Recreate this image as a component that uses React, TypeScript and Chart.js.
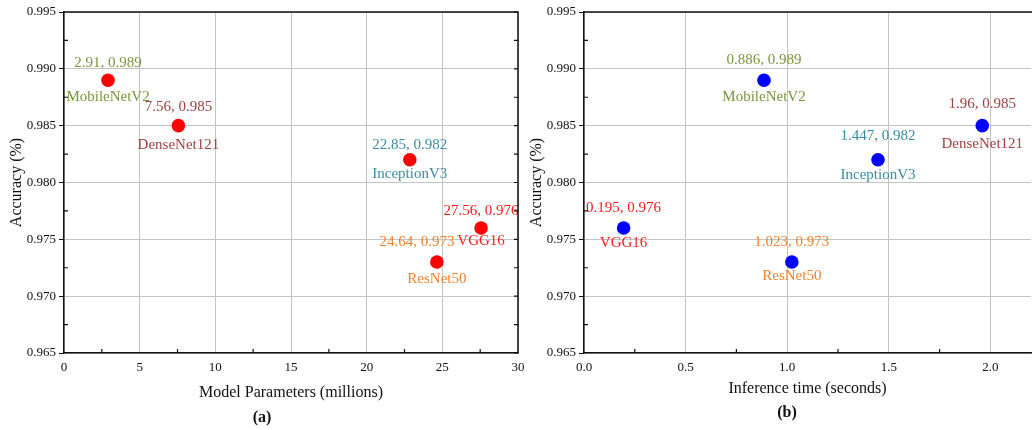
import React, { useEffect, useRef } from 'react';
import { Chart, registerables } from 'chart.js';

Chart.register(...registerables);
Chart.defaults.font.family = '"Liberation Serif", "Times New Roman", serif';

// ---- data ----
const models = ['MobileNetV2', 'DenseNet121', 'InceptionV3', 'VGG16', 'ResNet50'];
const paramsMillions = [2.91, 7.56, 22.85, 27.56, 24.64];
const inferenceSeconds = [0.886, 1.96, 1.447, 0.195, 1.023];
const accuracy = [0.989, 0.985, 0.982, 0.976, 0.973];
const labelColors = ['#789640', '#A0413E', '#3A8CA3', '#FF1A1A', '#EE8230'];

const accRange = { min: 0.965, max: 0.995, major: 0.005, minor: 0.0025 };
const paramsRange = { min: 0, max: 30, major: 5, minor: 2.5 };
const timeRange = { min: 0, max: 2.2, major: 0.5, minor: 0.25 };

const isMajor = (v: number, step: number) => Math.abs(v / step - Math.round(v / step)) < 1e-6;

const framePlugin = {
  id: 'frame',
  afterDraw(chart: any, _a: any, opts: any) {
    const { ctx, chartArea: a, scales } = chart;
    ctx.save();
    ctx.strokeStyle = '#111';
    ctx.lineWidth = 1.5;
    ctx.beginPath();
    ctx.moveTo(a.left, a.top);
    ctx.lineTo(opts.drawRight ? a.right : a.right + 2, a.top);
    if (opts.drawRight) ctx.lineTo(a.right, a.bottom);
    ctx.stroke();
    ctx.lineWidth = 1.2;
    ctx.beginPath();
    scales.y.ticks.forEach((t: any) => {
      const y = scales.y.getPixelForValue(t.value);
      if (!isMajor(t.value, opts.yMajor)) {
        ctx.moveTo(a.left, y);
        ctx.lineTo(a.left + 4, y);
      }
      if (opts.drawRight) {
        ctx.moveTo(a.right, y);
        ctx.lineTo(a.right - 4, y);
      }
    });
    scales.x.ticks.forEach((t: any) => {
      if (!isMajor(t.value, opts.xMajor)) {
        const x = scales.x.getPixelForValue(t.value);
        ctx.moveTo(x, a.bottom);
        ctx.lineTo(x, a.bottom - 4);
      }
    });
    ctx.stroke();
    // sub-figure caption
    ctx.fillStyle = '#111';
    ctx.font = 'bold 16px "Liberation Serif"';
    ctx.textAlign = 'center';
    ctx.textBaseline = 'middle';
    ctx.fillText(opts.caption, opts.captionX, opts.captionY);
    ctx.restore();
  },
};

const pointLabelPlugin = {
  id: 'pointLabels',
  afterDatasetsDraw(chart: any, _a: any, opts: any) {
    const meta = chart.getDatasetMeta(0);
    const data = chart.data.datasets[0].data;
    const ctx = chart.ctx;
    ctx.save();
    ctx.font = '15px "Liberation Serif"';
    ctx.textAlign = 'center';
    ctx.textBaseline = 'middle';
    meta.data.forEach((el: any, i: number) => {
      const raw = data[i];
      ctx.fillStyle = labelColors[i];
      const dx = (opts.valueDx && opts.valueDx[i]) || 0;
      const dy = (opts.valueDy && opts.valueDy[i]) || 19;
      ctx.fillText(`${raw.x}, ${raw.y}`, el.x + dx, el.y - dy);
      ctx.fillText(models[i], el.x, el.y + ((opts.nameDy && opts.nameDy[i]) || 16));
    });
    ctx.restore();
  },
};

function makeConfig(p: {
  xs: number[];
  xRange: any;
  xTitle: string;
  xFmt: (v: number) => string;
  color: string;
  padRight: number;
  yTitlePad: number;
  xTitlePad: number;
  caption: string;
  captionX: number;
  captionY: number;
  drawRight: boolean;
  valueDx?: number[];
  valueDy?: number[];
  nameDy?: number[];
}): any {
  return {
    type: 'scatter',
    data: {
      datasets: [
        {
          data: p.xs.map((x, i) => ({ x, y: accuracy[i] })),
          backgroundColor: p.color,
          borderWidth: 0,
          pointRadius: 6.8,
          pointHoverRadius: 6.8,
        },
      ],
    },
    options: {
      responsive: false,
      animation: false,
      events: [],
      layout: { autoPadding: false, padding: { top: 12, right: p.padRight, left: 0, bottom: 0 } },
      plugins: {
        legend: { display: false },
        tooltip: { enabled: false },
        frame: { drawRight: p.drawRight, yMajor: accRange.major, xMajor: p.xRange.major, caption: p.caption, captionX: p.captionX, captionY: p.captionY },
        pointLabels: { valueDx: p.valueDx, valueDy: p.valueDy, nameDy: p.nameDy },
      },
      scales: {
        x: {
          type: 'linear',
          min: p.xRange.min,
          max: p.xRange.max,
          afterFit: (s: any) => { s.height = 77; },
          border: { display: true, color: '#111', width: 1.5 },
          grid: {
            color: (c: any) => (c.tick && isMajor(c.tick.value, p.xRange.major) ? '#c4c4c4' : 'rgba(0,0,0,0)'),
            lineWidth: 1,
            tickLength: 4,
            tickColor: 'rgba(0,0,0,0)',
          },
          ticks: {
            stepSize: p.xRange.minor,
            includeBounds: false,
            autoSkip: false,
            maxRotation: 0,
            padding: 3,
            color: '#111',
            font: { size: 13 },
            callback: (v: any) => (isMajor(Number(v), p.xRange.major) ? p.xFmt(Number(v)) : ''),
          },
          title: {
            display: true,
            text: p.xTitle,
            color: '#111',
            font: { size: 16 },
            padding: { top: 0, bottom: p.xTitlePad },
          },
        },
        y: {
          type: 'linear',
          min: accRange.min,
          max: accRange.max,
          afterFit: (s: any) => { s.width = 64; },
          border: { display: true, color: '#111', width: 1.5 },
          grid: {
            color: (c: any) => (c.tick && isMajor(c.tick.value, accRange.major) ? '#c4c4c4' : 'rgba(0,0,0,0)'),
            lineWidth: 1,
            tickLength: 5,
            tickColor: (c: any) => (c.tick && isMajor(c.tick.value, accRange.major) ? '#111' : 'rgba(0,0,0,0)'),
          },
          ticks: {
            stepSize: accRange.minor,
            autoSkip: false,
            padding: 3,
            color: '#111',
            font: { size: 13 },
            callback: (v: any) => (isMajor(Number(v), accRange.major) ? Number(v).toFixed(3) : ''),
          },
          title: {
            display: true,
            text: 'Accuracy (%)',
            color: '#111',
            font: { size: 16 },
            padding: { top: p.yTitlePad, bottom: 0 },
          },
        },
      },
    },
    plugins: [pointLabelPlugin, framePlugin],
  };
}

export default function App() {
  const leftRef = useRef<HTMLCanvasElement>(null);
  const rightRef = useRef<HTMLCanvasElement>(null);

  useEffect(() => {
    const left = new Chart(
      leftRef.current as HTMLCanvasElement,
      makeConfig({
        xs: paramsMillions,
        xRange: paramsRange,
        xTitle: 'Model Parameters (millions)',
        xFmt: (v) => String(v),
        color: '#FF0000',
        padRight: 12,
        yTitlePad: 7,
        xTitlePad: 28,
        caption: '(a)',
        captionX: 262,
        captionY: 418,
        drawRight: true,
        valueDx: [0, 0, 0, 0, -20],
        valueDy: [17, 19, 15, 17, 20],
        nameDy: [17, 19, 14, 13, 17],
      })
    );
    const right = new Chart(
      rightRef.current as HTMLCanvasElement,
      makeConfig({
        xs: inferenceSeconds,
        xRange: timeRange,
        xTitle: 'Inference time (seconds)',
        xFmt: (v) => v.toFixed(1),
        color: '#0000FF',
        padRight: 1,
        yTitlePad: 7,
        xTitlePad: 32,
        caption: '(b)',
        captionX: 267,
        captionY: 413,
        drawRight: false,
        valueDy: [20, 22, 24, 20, 20],
        nameDy: [17, 18, 15, 15, 14],
      })
    );
    return () => {
      left.destroy();
      right.destroy();
    };
  }, []);

  return (
    <div style={{ position: 'fixed', left: 0, top: 0, width: 1032, height: 430, background: '#fff', overflow: 'hidden' }}>
      <canvas ref={leftRef} width={530} height={430} style={{ position: 'absolute', left: 0, top: 0 }} />
      <canvas ref={rightRef} width={512} height={430} style={{ position: 'absolute', left: 520, top: 0 }} />
    </div>
  );
}
